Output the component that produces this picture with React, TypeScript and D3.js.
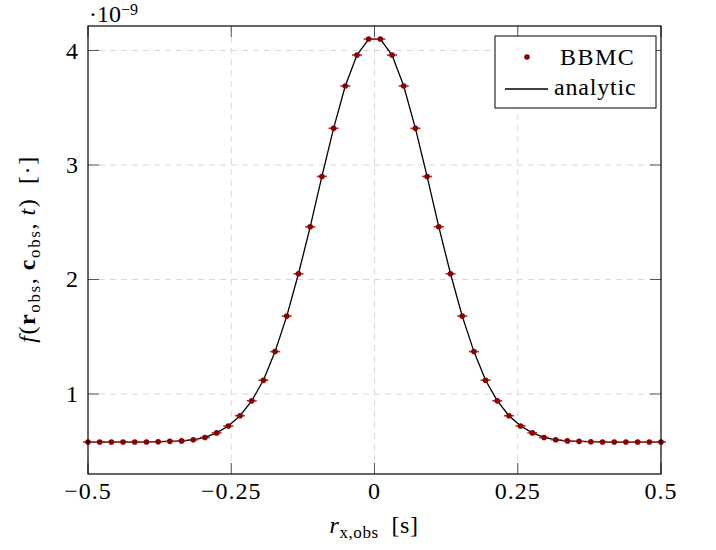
import React, { useEffect, useRef } from "react";
import * as d3 from "d3";

// sample positions (50 points across [-0.5, 0.5]) and values, in 1e-9
const xs: number[] = [
  -0.5, -0.4796, -0.4592, -0.4388, -0.4184, -0.398, -0.3776, -0.3571, -0.3367, -0.3163,
  -0.2959, -0.2755, -0.2551, -0.2347, -0.2143, -0.1939, -0.1735, -0.1531, -0.1327, -0.1122,
  -0.0918, -0.0714, -0.051, -0.0306, -0.0102, 0.0102, 0.0306, 0.051, 0.0714, 0.0918,
  0.1122, 0.1327, 0.1531, 0.1735, 0.1939, 0.2143, 0.2347, 0.2551, 0.2755, 0.2959,
  0.3163, 0.3367, 0.3571, 0.3776, 0.398, 0.4184, 0.4388, 0.4592, 0.4796, 0.5,
];
const bbmc: number[] = [
  0.58, 0.58, 0.58, 0.58, 0.58, 0.58, 0.583, 0.586, 0.59, 0.6,
  0.62, 0.66, 0.72, 0.81, 0.94, 1.12, 1.37, 1.68, 2.05, 2.46,
  2.9, 3.32, 3.69, 3.96, 4.1, 4.1, 3.96, 3.69, 3.32, 2.9,
  2.46, 2.05, 1.68, 1.37, 1.12, 0.94, 0.81, 0.72, 0.66, 0.62,
  0.6, 0.59, 0.586, 0.583, 0.58, 0.58, 0.58, 0.58, 0.58, 0.58,
];
const analytic: number[] = [
  0.58, 0.58, 0.58, 0.58, 0.58, 0.58, 0.583, 0.586, 0.59, 0.6,
  0.62, 0.66, 0.72, 0.81, 0.94, 1.12, 1.37, 1.68, 2.05, 2.46,
  2.9, 3.32, 3.69, 3.96, 4.1, 4.1, 3.96, 3.69, 3.32, 2.9,
  2.46, 2.05, 1.68, 1.37, 1.12, 0.94, 0.81, 0.72, 0.66, 0.62,
  0.6, 0.59, 0.586, 0.583, 0.58, 0.58, 0.58, 0.58, 0.58, 0.58,
];
const xTicks: number[] = [-0.5, -0.25, 0, 0.25, 0.5];
const yTicks: number[] = [1, 2, 3, 4];

const FONT = "'Liberation Serif', 'DejaVu Serif', serif";
const RED = "#8b0000";
const FS = 24;
const SUB = 17;

export default function App() {
  const svgRef = useRef<SVGSVGElement>(null);

  useEffect(() => {
    const w = 716;
    const h = 550;
    const m = { left: 88, right: 661, top: 26, bottom: 474 };
    const svg = d3.select(svgRef.current)
      .attr("width", w)
      .attr("height", h)
      .style("font-family", FONT);
    svg.selectAll("*").remove();

    const x = d3.scaleLinear().domain([-0.5, 0.5]).range([m.left, m.right]);
    const y = d3.scaleLinear().domain([0.301, 4.214]).range([m.bottom, m.top]);

    // grid
    const grid = svg.append("g").attr("stroke", "#d9d9d9").attr("stroke-dasharray", "6,5").attr("stroke-width", 1);
    grid.selectAll(".gx").data(xTicks.slice(1, -1)).join("line")
      .attr("x1", (d) => x(d)).attr("x2", (d) => x(d))
      .attr("y1", m.top).attr("y2", m.bottom);
    grid.selectAll(".gy").data(yTicks).join("line")
      .attr("y1", (d) => y(d)).attr("y2", (d) => y(d))
      .attr("x1", m.left).attr("x2", m.right);

    // ticks, mirrored on all four sides
    const tl = 11;
    const ticks = svg.append("g").attr("stroke", "#555").attr("stroke-width", 1);
    xTicks.forEach((t) => {
      ticks.append("line").attr("x1", x(t)).attr("x2", x(t)).attr("y1", m.bottom).attr("y2", m.bottom - tl);
      ticks.append("line").attr("x1", x(t)).attr("x2", x(t)).attr("y1", m.top).attr("y2", m.top + tl);
    });
    yTicks.forEach((t) => {
      ticks.append("line").attr("y1", y(t)).attr("y2", y(t)).attr("x1", m.left).attr("x2", m.left + tl);
      ticks.append("line").attr("y1", y(t)).attr("y2", y(t)).attr("x1", m.right).attr("x2", m.right - tl);
    });

    // tick labels
    svg.append("g").selectAll("text").data(xTicks).join("text")
      .attr("x", (d) => x(d)).attr("y", m.bottom + 25)
      .attr("text-anchor", "middle").attr("font-size", FS).attr("letter-spacing", 1)
      .text((d) => (d < 0 ? "\u2212" : "") + String(Math.abs(d)));
    svg.append("g").selectAll("text").data(yTicks).join("text")
      .attr("x", m.left - 10).attr("y", (d) => y(d) + 8)
      .attr("text-anchor", "end").attr("font-size", FS)
      .text((d) => String(d));

    // exponent marker
    const ex = svg.append("text").attr("x", m.left + 1).attr("y", 22).attr("font-size", FS);
    ex.append("tspan").text("\u00b710");
    ex.append("tspan").attr("dy", -7).attr("font-size", 16).text("\u22129");

    // analytic line
    const pts = xs.map((v, i) => [v, analytic[i]] as [number, number]);
    svg.append("path").datum(pts)
      .attr("d", d3.line<[number, number]>().x((d) => x(d[0])).y((d) => y(d[1])))
      .attr("fill", "none").attr("stroke", "black").attr("stroke-width", 1.3);

    // BBMC markers with small horizontal bars
    const mk = svg.append("g");
    xs.forEach((v, i) => {
      mk.append("line")
        .attr("x1", x(v) - 5).attr("x2", x(v) + 5)
        .attr("y1", y(bbmc[i])).attr("y2", y(bbmc[i]))
        .attr("stroke", "#b03030").attr("stroke-width", 1.6);
      mk.append("circle").attr("cx", x(v)).attr("cy", y(bbmc[i])).attr("r", 2.8).attr("fill", RED);
    });

    // frame
    svg.append("rect")
      .attr("x", m.left).attr("y", m.top)
      .attr("width", m.right - m.left).attr("height", m.bottom - m.top)
      .attr("fill", "none").attr("stroke", "black").attr("stroke-width", 1.2);

    // legend
    const lg = svg.append("g");
    lg.append("rect").attr("x", 495).attr("y", 36).attr("width", 161).attr("height", 72)
      .attr("fill", "white").attr("stroke", "black").attr("stroke-width", 1);
    lg.append("circle").attr("cx", 527).attr("cy", 57).attr("r", 2.8).attr("fill", RED);
    lg.append("text").attr("x", 560).attr("y", 65).attr("font-size", FS).attr("letter-spacing", 1.5).text("BBMC");
    lg.append("line").attr("x1", 505).attr("x2", 548).attr("y1", 89).attr("y2", 89)
      .attr("stroke", "black").attr("stroke-width", 1.3);
    lg.append("text").attr("x", 554).attr("y", 95).attr("font-size", FS).attr("letter-spacing", 0.8).text("analytic");

    // x label
    const xl = svg.append("text").attr("x", 374).attr("y", 533)
      .attr("text-anchor", "middle").attr("font-size", FS).attr("letter-spacing", 0.6);
    xl.append("tspan").attr("font-style", "italic").text("r");
    xl.append("tspan").attr("dy", 5).attr("font-size", SUB).text("x,obs");
    xl.append("tspan").attr("dy", -5).text("\u2002[s]");

    // y label
    const yl = svg.append("text")
      .attr("transform", "translate(35,249) rotate(-90)")
      .attr("text-anchor", "middle").attr("font-size", FS).attr("letter-spacing", 1.6);
    yl.append("tspan").attr("font-style", "italic").text("f");
    yl.append("tspan").text("(");
    yl.append("tspan").attr("font-weight", "bold").text("r");
    yl.append("tspan").attr("dy", 5).attr("font-size", SUB).text("obs");
    yl.append("tspan").attr("dy", -5).text(",\u2009");
    yl.append("tspan").attr("font-weight", "bold").text("c");
    yl.append("tspan").attr("dy", 5).attr("font-size", SUB).text("obs");
    yl.append("tspan").attr("dy", -5).text(",\u2009");
    yl.append("tspan").attr("font-style", "italic").text("t");
    yl.append("tspan").text(")\u2002[\u00b7]");
  }, []);

  return (
    <div style={{ position: "absolute", left: 0, top: 0 }}>
      <svg ref={svgRef}></svg>
    </div>
  );
}
